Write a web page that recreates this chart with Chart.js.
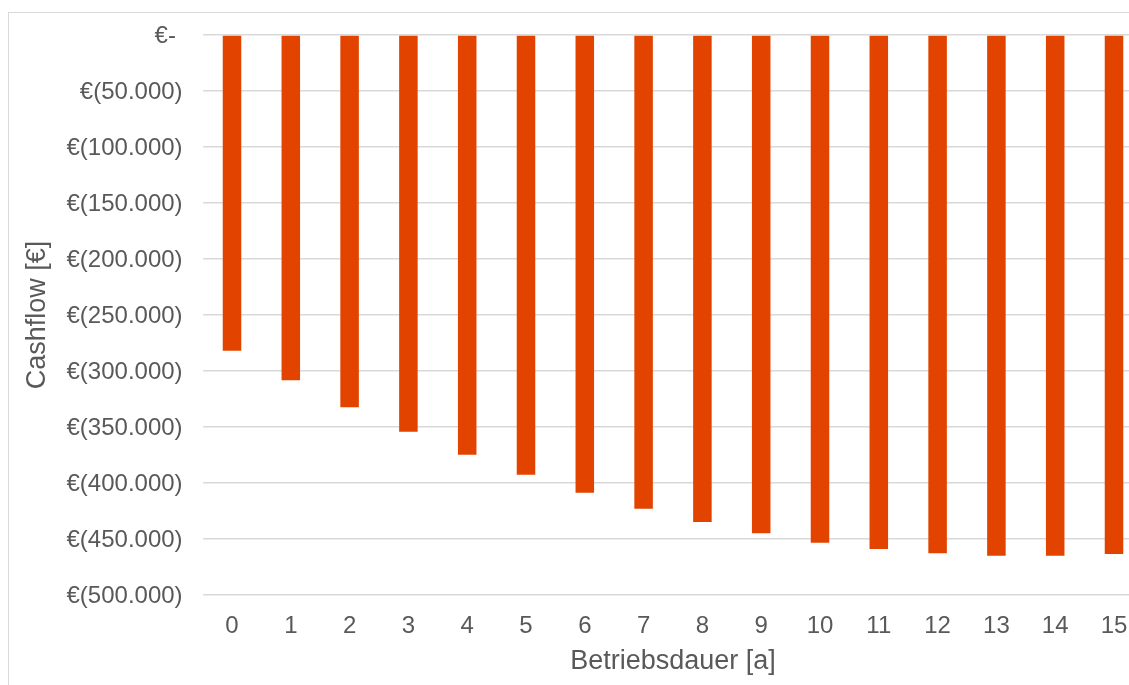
<!DOCTYPE html>
<html>
<head>
<meta charset="utf-8">
<script src="https://cdn.jsdelivr.net/npm/chart.js@4.4.0/dist/chart.umd.min.js"></script>
<style>
  html, body { margin: 0; padding: 0; background: #ffffff; overflow: hidden; width: 1129px; height: 685px; }
  #frame { position: absolute; left: 8px; top: 12px; width: 1200px; height: 700px; border: 1px solid #d9d9d9; box-sizing: border-box; }
  #chart { position: absolute; left: 0; top: 0; }
</style>
</head>
<body>
<div id="frame"></div>
<canvas id="chart" width="1170" height="685"></canvas>
<script>
// Operating years (x axis)
const years = ['0', '1', '2', '3', '4', '5', '6', '7', '8', '9', '10', '11', '12', '13', '14', '15'];
// Cumulative cashflow per operating year, in euro
const cashflow = [-282000, -308300, -332400, -354200, -374700, -392600, -408700, -422900,
                  -434800, -444900, -453300, -458900, -462800, -464900, -464900, -463400];
// Value axis range
const yMin = -500000;
const yMax = 0;
const yStep = 50000;

const textColor = '#595959';
const fontFamily = '"Liberation Sans", Arial, Helvetica, sans-serif';

// Accounting-style euro label: zero as "€-", negatives in parentheses
function euro(v) {
  if (v === 0) return '€-\u00a0';
  const s = String(Math.abs(Math.round(v))).replace(/\B(?=(\d{3})+(?!\d))/g, '.');
  return v < 0 ? '€(' + s + ')' : '€' + s;
}

new Chart(document.getElementById('chart'), {
  type: 'bar',
  data: {
    labels: years,
    datasets: [{
      data: cashflow,
      backgroundColor: '#E24400',
      borderWidth: 0,
      barPercentage: 0.315,
      categoryPercentage: 1
    }]
  },
  options: {
    responsive: false,
    animation: false,
    devicePixelRatio: 1,
    layout: { padding: { left: 0, top: 35, right: 26.6, bottom: 0 } },
    plugins: { legend: { display: false }, tooltip: { enabled: false } },
    scales: {
      x: {
        grid: { display: false, drawTicks: false },
        border: { display: false },
        ticks: { color: textColor, font: { family: fontFamily, size: 24 }, padding: 17, maxRotation: 0 },
        title: { display: true, text: 'Betriebsdauer [a]', color: textColor,
                 font: { family: fontFamily, size: 27 }, padding: { top: 0, bottom: 7 } },
        afterFit: s => { s.height = 90; }
      },
      y: {
        min: yMin,
        max: yMax,
        grid: { color: '#d9d9d9', lineWidth: 1.5, drawTicks: false },
        border: { display: false },
        ticks: { stepSize: yStep, color: textColor, font: { family: fontFamily, size: 24 },
                 padding: 20, labelOffset: 1, callback: v => euro(v) },
        title: { display: true, text: 'Cashflow [€]', color: textColor,
                 font: { family: fontFamily, size: 27 }, padding: { top: 21, bottom: 0 } },
        afterFit: s => { s.width = 202.6; }
      }
    }
  }
});
</script>
</body>
</html>
